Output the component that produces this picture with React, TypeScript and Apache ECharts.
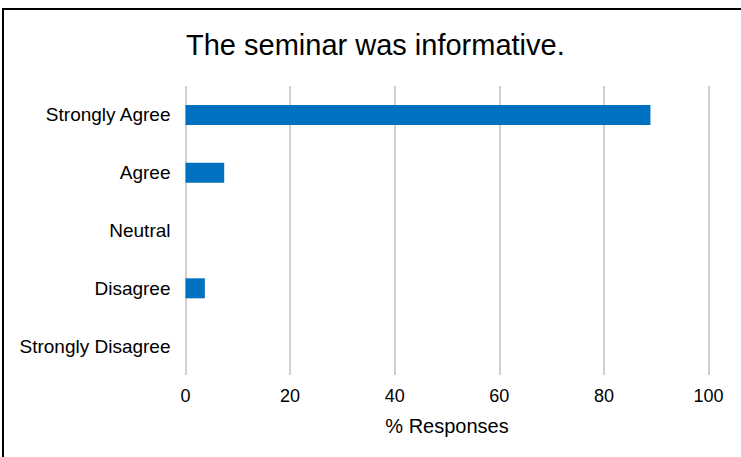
import React, { useEffect, useRef } from "react";
import * as echarts from "echarts";

// Survey responses (% of respondents), top to bottom
const categories = ["Strongly Agree", "Agree", "Neutral", "Disagree", "Strongly Disagree"];
const responses = [88.9, 7.4, 0, 3.7, 0];
const xTicks = [0, 20, 40, 60, 80, 100];

const FONT = "'Liberation Sans', Arial, sans-serif";

export default function App() {
  const ref = useRef<HTMLDivElement>(null);

  useEffect(() => {
    if (!ref.current) return;
    const chart = echarts.init(ref.current, undefined, { renderer: "svg" });
    chart.setOption({
      animation: false,
      backgroundColor: "#ffffff",
      title: {
        text: "The seminar was informative.",
        left: 186,
        top: 30,
        padding: 0,
        textStyle: { fontFamily: FONT, fontSize: 29, fontWeight: "normal", color: "#000" },
      },
      graphic: [
        { type: "line", shape: { x1: 2, y1: 9, x2: 741, y2: 9 }, style: { stroke: "#000", lineWidth: 2 } },
        { type: "line", shape: { x1: 3, y1: 8, x2: 3, y2: 457 }, style: { stroke: "#000", lineWidth: 2 } },
      ],
      grid: { left: 185.5, right: 32.5, top: 86, bottom: 82 },
      xAxis: {
        type: "value",
        min: xTicks[0],
        max: xTicks[xTicks.length - 1],
        interval: 20,
        name: "% Responses",
        nameLocation: "middle",
        nameGap: 41,
        nameTextStyle: { fontFamily: FONT, fontSize: 20, color: "#000" },
        axisLine: { show: false },
        axisTick: { show: false },
        axisLabel: { fontFamily: FONT, fontSize: 18, color: "#000", margin: 12 },
        splitLine: { show: true, lineStyle: { color: "#c0c0c0", width: 1.5 } },
      },
      yAxis: {
        type: "category",
        data: categories,
        inverse: true,
        axisLine: { show: false },
        axisTick: { show: false },
        axisLabel: { fontFamily: FONT, fontSize: 19, color: "#000", margin: 15 },
        splitLine: { show: false },
      },
      series: [
        {
          type: "bar",
          data: responses,
          barWidth: 20,
          itemStyle: { color: "#0070C0" },
        },
      ],
    });
    return () => chart.dispose();
  }, []);

  return (
    <div
      ref={ref}
      style={{ position: "fixed", left: 0, top: 0, width: 741, height: 457 }}
    />
  );
}
